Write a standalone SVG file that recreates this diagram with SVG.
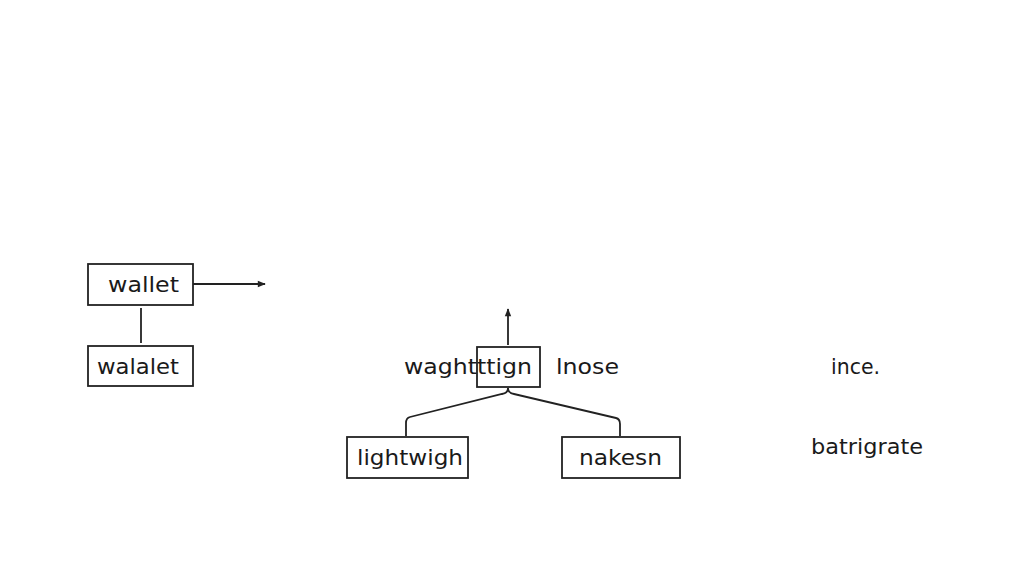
<svg xmlns="http://www.w3.org/2000/svg" width="1024" height="585" viewBox="0 0 1024 585">
<defs>
<style>
.box{fill:#fff;stroke:#222;stroke-width:1.8}
.t{font-family:"DejaVu Sans","Liberation Sans",sans-serif;font-size:22px;fill:#1a1a1a}
.c{fill:none;stroke:#222;stroke-width:1.8}
</style>
<marker id="ah2" viewBox="0 0 10 10" refX="9" refY="5" markerWidth="10" markerHeight="8" orient="auto" markerUnits="userSpaceOnUse">
<path d="M0,1 L10,5 L0,9 z" fill="#222"/>
</marker>
</defs>
<rect width="1024" height="585" fill="#fff"/>
<g id="connectors">
<line class="c" x1="193" y1="284" x2="265" y2="284" marker-end="url(#ah2)"/>
<line class="c" x1="141" y1="308" x2="141" y2="343"/>
<line class="c" x1="508" y1="345" x2="508" y2="309" marker-end="url(#ah2)"/>
<path class="c" d="M508,388 Q508,393 502,394 L410,417 Q406,418 406,423 L406,436"/>
<path class="c" d="M508,388 Q508,393 514,394 L616,418 Q620,419 620,424 L620,436"/>
</g>
<g id="node-wallet">
<rect class="box" x="88" y="264" width="105" height="41"/>
<text class="t" x="108" y="292" textLength="71" lengthAdjust="spacingAndGlyphs">wallet</text>
</g>
<g id="node-walalet">
<rect class="box" x="88" y="346" width="105" height="40"/>
<text class="t" x="97" y="374" textLength="82" lengthAdjust="spacingAndGlyphs">walalet</text>
</g>
<g id="node-waghtttign">
<rect class="box" x="477" y="347" width="63" height="40"/>
<text class="t" x="404" y="374" textLength="128" lengthAdjust="spacingAndGlyphs">waghtttign</text>
</g>
<g id="node-lnose">
<text class="t" x="556" y="374" textLength="63" lengthAdjust="spacingAndGlyphs">lnose</text>
</g>
<g id="node-lightwigh">
<rect class="box" x="347" y="437" width="121" height="41"/>
<text class="t" x="357" y="465" textLength="106" lengthAdjust="spacingAndGlyphs">lightwigh</text>
</g>
<g id="node-nakesn">
<rect class="box" x="562" y="437" width="118" height="41"/>
<text class="t" x="579" y="465" textLength="83" lengthAdjust="spacingAndGlyphs">nakesn</text>
</g>
<g id="node-ince">
<text class="t" x="831" y="374" textLength="49" lengthAdjust="spacingAndGlyphs">ince.</text>
</g>
<g id="node-batrigrate">
<text class="t" x="811" y="454" textLength="112" lengthAdjust="spacingAndGlyphs">batrigrate</text>
</g>
</svg>
